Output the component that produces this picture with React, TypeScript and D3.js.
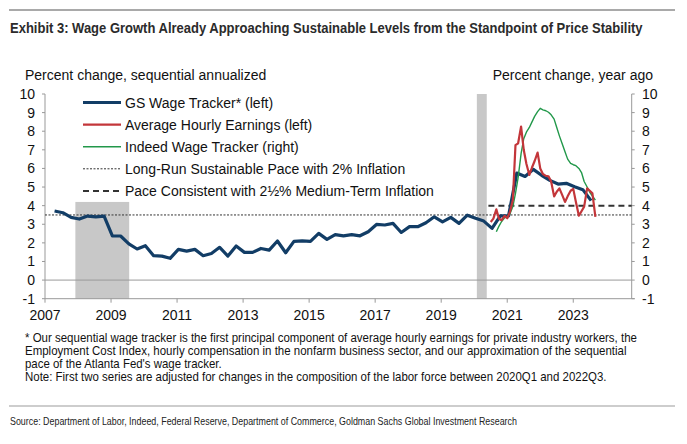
import { useLayoutEffect, useRef, useState } from "react";
import * as d3 from "d3";

type Pt = { t: number; v: number };

// GS Wage Tracker (left axis), quarterly
const gsTimes = [
  2007.29, 2007.54, 2007.79, 2008.04, 2008.29, 2008.54, 2008.79, 2009.04, 2009.29, 2009.54,
  2009.79, 2010.04, 2010.29, 2010.54, 2010.79, 2011.04, 2011.29, 2011.54, 2011.79, 2012.04,
  2012.29, 2012.54, 2012.79, 2013.04, 2013.29, 2013.54, 2013.79, 2014.04, 2014.29, 2014.54,
  2014.79, 2015.04, 2015.29, 2015.54, 2015.79, 2016.04, 2016.29, 2016.54, 2016.79, 2017.04,
  2017.29, 2017.54, 2017.79, 2018.04, 2018.29, 2018.54, 2018.79, 2019.04, 2019.29, 2019.54,
  2019.79, 2020.04, 2020.29, 2020.54, 2020.79, 2021.04, 2021.29, 2021.54, 2021.79, 2022.04,
  2022.29, 2022.54, 2022.79, 2023.04, 2023.29, 2023.54,
];
const gsValues = [
  3.71, 3.62, 3.37, 3.28, 3.44, 3.4, 3.44, 2.37, 2.37, 1.95,
  1.67, 1.85, 1.31, 1.29, 1.17, 1.65, 1.56, 1.65, 1.31, 1.43,
  1.76, 1.29, 1.83, 1.49, 1.49, 1.7, 1.61, 2.1, 1.47, 2.08,
  2.11, 2.08, 2.51, 2.19, 2.44, 2.38, 2.44, 2.38, 2.6, 2.99,
  2.96, 3.05, 2.56, 2.87, 2.87, 3.08, 3.4, 3.13, 3.37, 3.05,
  3.49, 3.32, 3.17, 2.78, 3.45, 3.45, 5.75, 5.57, 5.95, 5.63,
  5.36, 5.16, 5.2, 5.02, 4.86, 4.27,
];

// Average Hourly Earnings (left axis), monthly
const aheTimes = [
  2020.5, 2020.58, 2020.67, 2020.75, 2020.83, 2020.92, 2021.0, 2021.08, 2021.17, 2021.25,
  2021.33, 2021.42, 2021.5, 2021.58, 2021.67, 2021.75, 2021.83, 2021.92, 2022.0, 2022.08,
  2022.17, 2022.25, 2022.33, 2022.42, 2022.5, 2022.58, 2022.67, 2022.75, 2022.83, 2022.92,
  2023.0, 2023.08, 2023.17, 2023.25, 2023.33, 2023.42, 2023.5, 2023.58, 2023.67,
];
const aheValues = [
  3.12, 3.3, 3.8, 3.3, 3.22, 3.45, 3.32, 3.65, 4.3, 7.25,
  7.35, 8.25, 7.0, 6.25, 5.65, 6.05, 6.4, 6.85, 6.0, 5.7,
  5.6, 5.58, 5.3, 4.5, 4.75, 4.93, 4.55, 4.2, 4.5, 4.8,
  4.9, 4.2, 3.46, 3.7, 3.95, 4.93, 4.8, 4.66, 3.4,
];

// Indeed Wage Tracker (right axis)
const indeedTimes = [
  2020.67, 2020.75, 2020.83, 2020.92, 2021.0, 2021.08, 2021.17, 2021.25, 2021.33, 2021.42,
  2021.5, 2021.58, 2021.67, 2021.75, 2021.83, 2021.92, 2022.0, 2022.08, 2022.17, 2022.25,
  2022.33, 2022.42, 2022.5, 2022.58, 2022.67, 2022.75, 2022.83, 2022.92, 2023.0, 2023.08,
  2023.17, 2023.25, 2023.33, 2023.42, 2023.5, 2023.58, 2023.67,
];
const indeedValues = [
  2.6, 2.9, 3.15, 3.35, 3.42, 3.55, 3.95, 4.66, 5.5, 6.8,
  7.6, 7.95, 8.2, 8.5, 8.8, 9.05, 9.23, 9.15, 9.1, 9.02,
  8.88, 8.65, 8.2, 7.75, 7.3, 6.9, 6.5, 6.27, 6.2, 6.15,
  6.0, 5.78, 5.3, 5.0, 4.72, 4.52, 4.3,
];

const recessions = [
  { start: 2007.92, end: 2009.55, top: 4.2 },
  { start: 2020.08, end: 2020.38, top: 10 },
];
const sustainablePace = 3.5;
const mediumTermPace = 4.0;
const mediumTermStart = 2020.43;

const yTicks = [-1, 0, 1, 2, 3, 4, 5, 6, 7, 8, 9, 10];
const xTicks = [2007, 2009, 2011, 2013, 2015, 2017, 2019, 2021, 2023];

const footnotes = [
  "* Our sequential wage tracker is the first principal component of average hourly earnings for private industry workers, the",
  "Employment Cost Index, hourly compensation in the nonfarm business sector, and our approximation of the sequential",
  "pace of the Atlanta Fed's wage tracker.",
  "Note: First two series are adjusted for changes in the composition of the labor force between 2020Q1 and 2022Q3.",
];
const footnoteWidths = [612, 602, 197, 582];

const zip = (ts: number[], vs: number[]): Pt[] => ts.map((t, i) => ({ t, v: vs[i] }));

const FONT = "'Liberation Sans', Arial, sans-serif";
const NARROW = "'Liberation Sans Narrow', 'Arial Narrow', 'Liberation Sans', Arial, sans-serif";

// squeezes a text horizontally so it spans the given width
function FitText({ x, y, width, children, ...rest }: any) {
  const ref = useRef<SVGTextElement | null>(null);
  const [k, setK] = useState(1);
  useLayoutEffect(() => {
    if (ref.current) {
      const w = ref.current.getComputedTextLength();
      if (w > 0) setK(width / w);
    }
  }, [width]);
  return (
    <text ref={ref} transform={`translate(${x},${y}) scale(${k},1)`} {...rest}>
      {children}
    </text>
  );
}

export default function App() {
  const left = 45;
  const right = 631.7;
  const top = 94;
  const bottom = 298.7;

  const x = d3.scaleLinear().domain([2007, 2024.77]).range([left, right]);
  const y = d3.scaleLinear().domain([-1, 10]).range([bottom, top]);
  const yRight = d3.scaleLinear().domain([-1, 10]).range([bottom, top]);

  const line = d3
    .line<Pt>()
    .x((d) => x(d.t))
    .y((d) => y(d.v));
  const lineRight = d3
    .line<Pt>()
    .x((d) => x(d.t))
    .y((d) => yRight(d.v));

  const series = [
    { label: "GS Wage Tracker* (left)", color: "#123d66", width: 3.2 },
    { label: "Average Hourly Earnings (left)", color: "#c3363a", width: 2.2 },
    { label: "Indeed Wage Tracker (right)", color: "#22984a", width: 1.4 },
  ];
  const refLines = [
    { label: "Long-Run Sustainable Pace with 2% Inflation", dash: "2,1.5", width: 1 },
    { label: "Pace Consistent with 2\u00BD% Medium-Term Inflation", dash: "6,4", width: 2 },
  ];
  const legendRows = [
    ...series.map((s) => ({ ...s, dash: undefined as string | undefined })),
    ...refLines.map((r) => ({ ...r, color: "#333" })),
  ];

  return (
    <svg
      width={687}
      height={444}
      style={{ position: "absolute", left: 0, top: 0, background: "#fff" }}
      fontFamily={FONT}
    >
      {/* header */}
      <line x1={9} x2={675} y1={10} y2={10} stroke="#8c8c8c" strokeWidth={1.5} />
      <FitText x={10} y={33} width={633} fontFamily={NARROW} fontWeight="bold" fontSize={15.5} fill="#2b2b2b">
        Exhibit 3: Wage Growth Already Approaching Sustainable Levels from the Standpoint of Price Stability
      </FitText>

      {/* axis titles */}
      <text x={25} y={80} fontSize={14} fill="#111">
        Percent change, sequential annualized
      </text>
      <text x={653} y={80} fontSize={14} fill="#111" textAnchor="end">
        Percent change, year ago
      </text>

      {/* recession shading */}
      {recessions.map((r, i) => (
        <rect
          key={i}
          x={x(r.start)}
          width={x(r.end) - x(r.start)}
          y={y(r.top)}
          height={y(-1) - y(r.top)}
          fill="#c8c8c8"
        />
      ))}

      {/* zero line */}
      <line x1={left} x2={right} y1={y(0)} y2={y(0)} stroke="#999" strokeWidth={1} />

      {/* axes */}
      <line x1={left} x2={left} y1={top} y2={bottom} stroke="#999" />
      <line x1={right} x2={right} y1={top} y2={bottom} stroke="#999" />
      <line x1={left} x2={right + 3} y1={bottom} y2={bottom} stroke="#999" />
      {yTicks.map((t) => (
        <g key={t}>
          <line x1={left - 3} x2={left} y1={y(t)} y2={y(t)} stroke="#999" />
          <line x1={right} x2={right + 3} y1={yRight(t)} y2={yRight(t)} stroke="#999" />
          <text x={35} y={y(t) + 5} fontSize={14} textAnchor="end" fill="#111">
            {t}
          </text>
          <text x={642} y={yRight(t) + 5} fontSize={14} fill="#111">
            {t}
          </text>
        </g>
      ))}
      {xTicks.map((t) => (
        <g key={t}>
          <line x1={x(t)} x2={x(t)} y1={bottom} y2={bottom + 4} stroke="#999" />
          <text x={x(t)} y={320} fontSize={14} textAnchor="middle" fill="#111">
            {t}
          </text>
        </g>
      ))}

      {/* reference lines */}
      <line
        x1={left}
        x2={right}
        y1={y(sustainablePace)}
        y2={y(sustainablePace)}
        stroke="#333"
        strokeWidth={1}
        strokeDasharray="2,1.5"
      />
      <line
        x1={x(mediumTermStart)}
        x2={right}
        y1={y(mediumTermPace)}
        y2={y(mediumTermPace)}
        stroke="#333"
        strokeWidth={2}
        strokeDasharray="6,4"
      />

      {/* series */}
      <path d={line(zip(gsTimes, gsValues)) || ""} fill="none" stroke={series[0].color} strokeWidth={series[0].width} strokeLinejoin="round" />
      <path d={lineRight(zip(indeedTimes, indeedValues)) || ""} fill="none" stroke={series[2].color} strokeWidth={series[2].width} strokeLinejoin="round" />
      <path d={line(zip(aheTimes, aheValues)) || ""} fill="none" stroke={series[1].color} strokeWidth={series[1].width} strokeLinejoin="round" />

      {/* legend */}
      {legendRows.map((r, i) => {
        const ly = 102.5 + i * 22.1;
        return (
          <g key={r.label}>
            <line x1={83} x2={121} y1={ly} y2={ly} stroke={r.color} strokeWidth={r.width} strokeDasharray={r.dash} />
            <text x={125} y={ly + 5} fontSize={14} fill="#111">
              {r.label}
            </text>
          </g>
        );
      })}

      {/* footnotes */}
      {footnotes.map((f, i) => (
        <FitText key={i} x={25} y={342 + i * 13.1} width={footnoteWidths[i]} fontSize={12.5} fill="#111">
          {f}
        </FitText>
      ))}

      {/* source */}
      <line x1={9} x2={675} y1={406} y2={406} stroke="#bdbdbd" strokeWidth={1.5} />
      <FitText x={10} y={425} width={507} fontFamily={NARROW} fontSize={11} fill="#222">
        Source: Department of Labor, Indeed, Federal Reserve, Department of Commerce, Goldman Sachs Global Investment Research
      </FitText>
    </svg>
  );
}
